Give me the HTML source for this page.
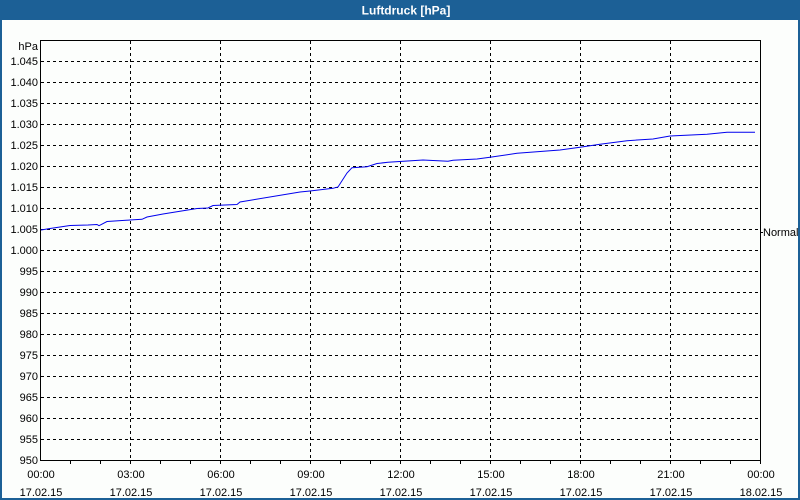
<!DOCTYPE html>
<html><head><meta charset="utf-8">
<style>
html,body{margin:0;padding:0;width:800px;height:500px;overflow:hidden;background:#fcfefc;}
svg{display:block;}
text{font-family:"Liberation Sans","DejaVu Sans",sans-serif;font-size:11px;fill:#000;}
</style></head>
<body>
<svg width="800" height="500" viewBox="0 0 800 500" xmlns="http://www.w3.org/2000/svg" shape-rendering="crispEdges">
<rect x="0" y="0" width="800" height="500" fill="#fcfefc"/>
<!-- window border -->
<rect x="0" y="0" width="2" height="500" fill="#1c6096"/>
<rect x="798" y="0" width="2" height="500" fill="#1c6096"/>
<rect x="0" y="498" width="800" height="2" fill="#1c6096"/>
<rect x="0" y="0" width="800" height="20" fill="#1c6096"/>
<text x="406" y="14.5" text-anchor="middle" style="font-weight:bold;fill:#fff;font-size:12px">Luftdruck [hPa]</text>

<!-- horizontal grid -->
<g stroke="#000" stroke-width="1" stroke-dasharray="3,3">
<line x1="41" y1="61.5" x2="760" y2="61.5"/>
<line x1="41" y1="82.5" x2="760" y2="82.5"/>
<line x1="41" y1="103.5" x2="760" y2="103.5"/>
<line x1="41" y1="124.5" x2="760" y2="124.5"/>
<line x1="41" y1="145.5" x2="760" y2="145.5"/>
<line x1="41" y1="166.5" x2="760" y2="166.5"/>
<line x1="41" y1="187.5" x2="760" y2="187.5"/>
<line x1="41" y1="208.5" x2="760" y2="208.5"/>
<line x1="41" y1="229.5" x2="760" y2="229.5"/>
<line x1="41" y1="250.5" x2="760" y2="250.5"/>
<line x1="41" y1="271.5" x2="760" y2="271.5"/>
<line x1="41" y1="292.5" x2="760" y2="292.5"/>
<line x1="41" y1="313.5" x2="760" y2="313.5"/>
<line x1="41" y1="334.5" x2="760" y2="334.5"/>
<line x1="41" y1="355.5" x2="760" y2="355.5"/>
<line x1="41" y1="376.5" x2="760" y2="376.5"/>
<line x1="41" y1="397.5" x2="760" y2="397.5"/>
<line x1="41" y1="418.5" x2="760" y2="418.5"/>
<line x1="41" y1="439.5" x2="760" y2="439.5"/>
</g>
<!-- vertical grid -->
<g stroke="#000" stroke-width="1" stroke-dasharray="3,3">
<line x1="130.5" y1="41" x2="130.5" y2="460"/>
<line x1="220.5" y1="41" x2="220.5" y2="460"/>
<line x1="310.5" y1="41" x2="310.5" y2="460"/>
<line x1="400.5" y1="41" x2="400.5" y2="460"/>
<line x1="490.5" y1="41" x2="490.5" y2="460"/>
<line x1="580.5" y1="41" x2="580.5" y2="460"/>
<line x1="670.5" y1="41" x2="670.5" y2="460"/>
</g>
<!-- axes -->
<g stroke="#000" stroke-width="1">
<line x1="40.5" y1="40" x2="40.5" y2="461"/>
<line x1="40" y1="40.5" x2="761" y2="40.5"/>
<line x1="40" y1="460.5" x2="761" y2="460.5"/>
<line x1="760.5" y1="40" x2="760.5" y2="461"/>
<!-- x minor ticks -->
<line x1="70.5" y1="460" x2="70.5" y2="464"/>
<line x1="100.5" y1="460" x2="100.5" y2="464"/>
<line x1="130.5" y1="460" x2="130.5" y2="464"/>
<line x1="160.5" y1="460" x2="160.5" y2="464"/>
<line x1="190.5" y1="460" x2="190.5" y2="464"/>
<line x1="220.5" y1="460" x2="220.5" y2="464"/>
<line x1="250.5" y1="460" x2="250.5" y2="464"/>
<line x1="280.5" y1="460" x2="280.5" y2="464"/>
<line x1="310.5" y1="460" x2="310.5" y2="464"/>
<line x1="340.5" y1="460" x2="340.5" y2="464"/>
<line x1="370.5" y1="460" x2="370.5" y2="464"/>
<line x1="400.5" y1="460" x2="400.5" y2="464"/>
<line x1="430.5" y1="460" x2="430.5" y2="464"/>
<line x1="460.5" y1="460" x2="460.5" y2="464"/>
<line x1="490.5" y1="460" x2="490.5" y2="464"/>
<line x1="520.5" y1="460" x2="520.5" y2="464"/>
<line x1="550.5" y1="460" x2="550.5" y2="464"/>
<line x1="580.5" y1="460" x2="580.5" y2="464"/>
<line x1="610.5" y1="460" x2="610.5" y2="464"/>
<line x1="640.5" y1="460" x2="640.5" y2="464"/>
<line x1="670.5" y1="460" x2="670.5" y2="464"/>
<line x1="700.5" y1="460" x2="700.5" y2="464"/>
<line x1="730.5" y1="460" x2="730.5" y2="464"/>
<line x1="760.5" y1="460" x2="760.5" y2="464"/>
<!-- Normal tick -->
<line x1="760" y1="232.5" x2="763" y2="232.5"/>
</g>

<!-- data -->
<polyline fill="none" stroke="#0000ee" stroke-width="1" shape-rendering="geometricPrecision" points="
41,230 50,228.5 70,225.5 88,225 97,224.5 99,225.7 107,221.5 130,220 142,219.3 147,217 163,214 197,208.5 208,208 213,205.5 237,204.5 240,202 300,192 310,191 333,188.3 338,187 347,173 352,167.7 367,166.7 377,163.5 388,162.3 423,160 448,161.3 453,160.3 477,159 490,157.3 517,153.3 560,150 580,147.3 600,144.3 627,140.7 653,139 670,136 707,134.3 727,132.3 755,132.3"/>

<!-- y labels -->
<g text-anchor="end">
<text x="38" y="50">hPa</text>
<text x="38" y="65">1.045</text>
<text x="38" y="86">1.040</text>
<text x="38" y="107">1.035</text>
<text x="38" y="128">1.030</text>
<text x="38" y="149">1.025</text>
<text x="38" y="170">1.020</text>
<text x="38" y="191">1.015</text>
<text x="38" y="212">1.010</text>
<text x="38" y="233">1.005</text>
<text x="38" y="254">1.000</text>
<text x="38" y="275">995</text>
<text x="38" y="296">990</text>
<text x="38" y="317">985</text>
<text x="38" y="338">980</text>
<text x="38" y="359">975</text>
<text x="38" y="380">970</text>
<text x="38" y="401">965</text>
<text x="38" y="422">960</text>
<text x="38" y="443">955</text>
<text x="38" y="464">950</text>
</g>
<text x="763" y="236">Normal</text>

<!-- x labels -->
<g text-anchor="middle">
<text x="41" y="478">00:00</text><text x="41" y="496">17.02.15</text>
<text x="131" y="478">03:00</text><text x="131" y="496">17.02.15</text>
<text x="221" y="478">06:00</text><text x="221" y="496">17.02.15</text>
<text x="311" y="478">09:00</text><text x="311" y="496">17.02.15</text>
<text x="401" y="478">12:00</text><text x="401" y="496">17.02.15</text>
<text x="491" y="478">15:00</text><text x="491" y="496">17.02.15</text>
<text x="581" y="478">18:00</text><text x="581" y="496">17.02.15</text>
<text x="671" y="478">21:00</text><text x="671" y="496">17.02.15</text>
<text x="761" y="478">00:00</text><text x="761" y="496">18.02.15</text>
</g>
</svg>
</body></html>
